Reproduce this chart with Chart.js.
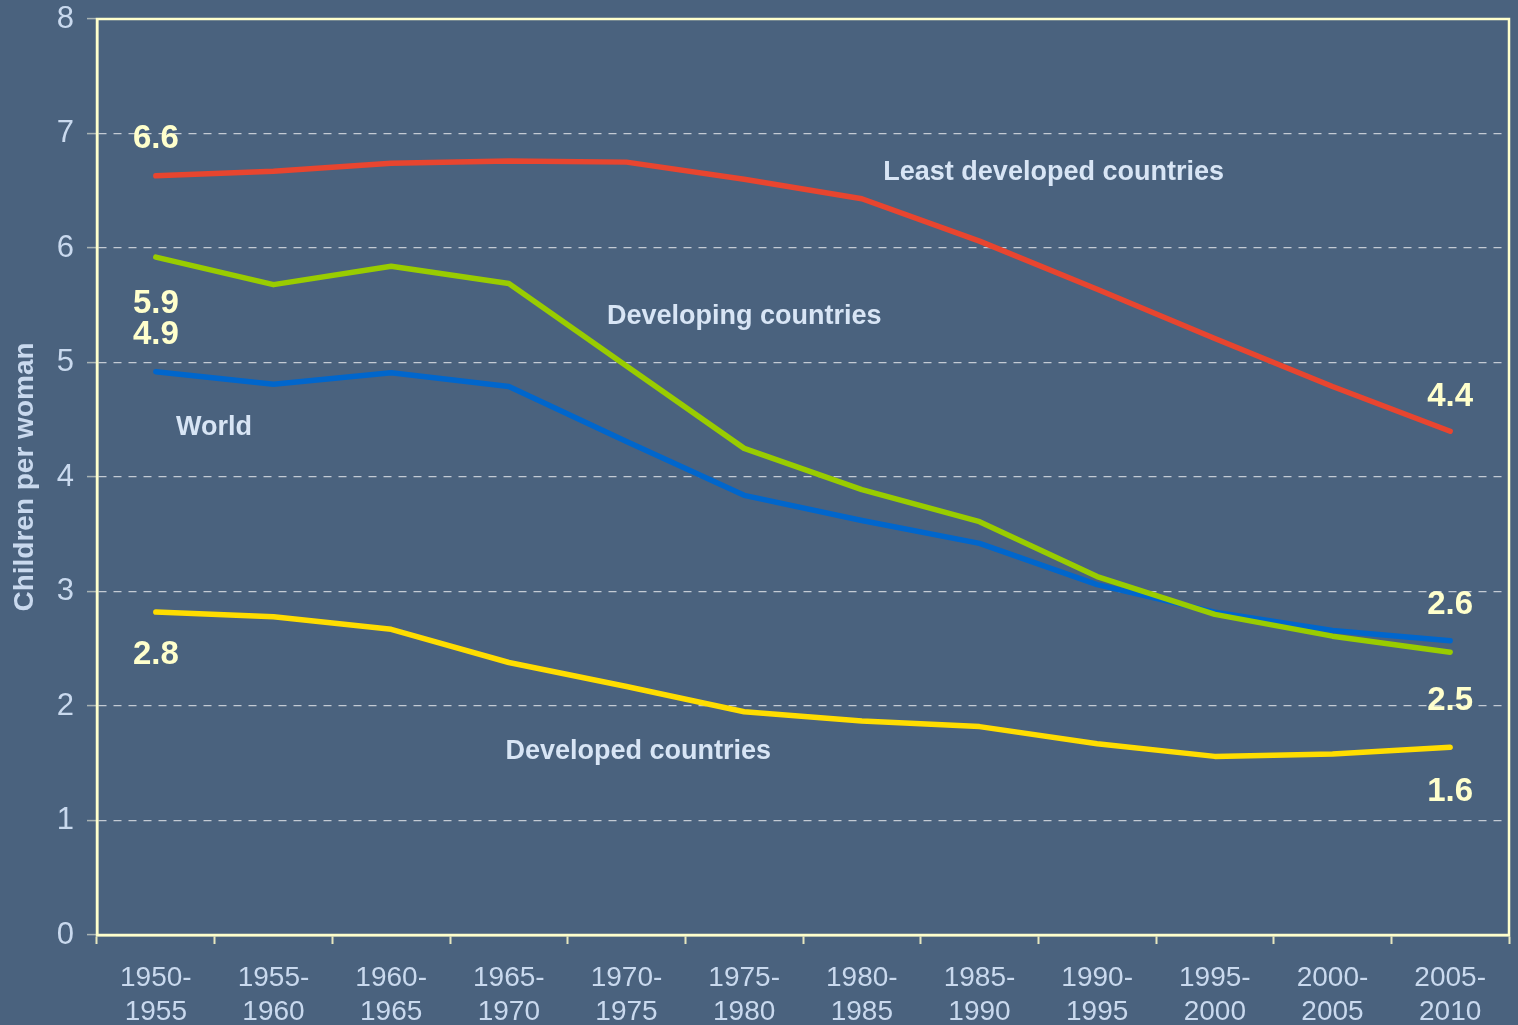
<!DOCTYPE html>
<html>
<head>
<meta charset="utf-8">
<script src="https://cdn.jsdelivr.net/npm/chart.js@4/dist/chart.umd.min.js"></script>
<style>
  html, body { margin: 0; padding: 0; background: #4A627E; }
  #wrap { width: 1518px; height: 1025px; }
</style>
</head>
<body>
<div id="wrap"><canvas id="c" width="1518" height="1025"></canvas></div>
<script>
// ---- data ----
const categories = [
  ['1950-', '1955'], ['1955-', '1960'], ['1960-', '1965'], ['1965-', '1970'],
  ['1970-', '1975'], ['1975-', '1980'], ['1980-', '1985'], ['1985-', '1990'],
  ['1990-', '1995'], ['1995-', '2000'], ['2000-', '2005'], ['2005-', '2010']
];
const leastDeveloped = [6.63, 6.67, 6.74, 6.76, 6.75, 6.60, 6.43, 6.06, 5.64, 5.21, 4.79, 4.40];
const developing     = [5.92, 5.68, 5.84, 5.69, 4.97, 4.25, 3.89, 3.61, 3.13, 2.80, 2.61, 2.47];
const world          = [4.92, 4.81, 4.91, 4.79, 4.31, 3.84, 3.62, 3.42, 3.06, 2.82, 2.66, 2.57];
const developed      = [2.82, 2.78, 2.67, 2.38, 2.17, 1.95, 1.87, 1.82, 1.67, 1.56, 1.58, 1.64];
const yTicks = [0, 1, 2, 3, 4, 5, 6, 7, 8];

// value labels: [text, categoryIndex, yValue]
const valueLabels = [
  ['6.6', 0, 6.98], ['5.9', 0, 5.54], ['4.9', 0, 5.27], ['2.8', 0, 2.47],
  ['4.4', 11, 4.73], ['2.6', 11, 2.91], ['2.5', 11, 2.07], ['1.6', 11, 1.28]
];
// series name labels: [text, categoryIndex, yValue]
const seriesLabels = [
  ['Least developed countries', 7.63, 6.68],
  ['Developing countries', 5.00, 5.42],
  ['World', 0.495, 4.45],
  ['Developed countries', 4.10, 1.62]
];

const BG = '#4A627E';
const CREAM = '#FFFFCC';
const TICKTXT = '#C9D9EE';
const FONT = '"Liberation Sans", Arial, sans-serif';

const bgPlugin = {
  id: 'bg',
  beforeDraw(chart) {
    const ctx = chart.ctx;
    ctx.save();
    ctx.fillStyle = BG;
    ctx.fillRect(0, 0, chart.width, chart.height);
    ctx.restore();
  },
  beforeDatasetsDraw(chart) {
    const {ctx, chartArea: a} = chart;
    ctx.save();
    ctx.setLineDash([]);
    ctx.strokeStyle = CREAM;
    ctx.lineWidth = 2.5;
    ctx.strokeRect(a.left, a.top, a.right - a.left, a.bottom - a.top);
    ctx.restore();
  },
  afterDatasetsDraw(chart) {
    const ctx = chart.ctx;
    const xs = chart.scales.x, ys = chart.scales.y;
    ctx.save();
    ctx.textAlign = 'center';
    ctx.textBaseline = 'middle';
    ctx.fillStyle = CREAM;
    ctx.font = 'bold 33px ' + FONT;
    valueLabels.forEach(([t, xi, yv]) => {
      ctx.fillText(t, xs.getPixelForValue(xi), ys.getPixelForValue(yv) + 3);
    });
    ctx.fillStyle = '#D8E5F5';
    ctx.font = 'bold 27px ' + FONT;
    seriesLabels.forEach(([t, xi, yv]) => {
      ctx.fillText(t, xs.getPixelForValue(xi), ys.getPixelForValue(yv) + 2);
    });
    ctx.restore();
  }
};

function ds(label, data, color) {
  return {
    label, data,
    borderColor: color, backgroundColor: color,
    borderWidth: 5.5, pointRadius: 0, tension: 0,
    borderCapStyle: 'round', borderJoinStyle: 'round', fill: false
  };
}

new Chart(document.getElementById('c'), {
  type: 'line',
  data: {
    labels: categories,
    datasets: [
      ds('Least developed countries', leastDeveloped, '#E8452F'),
      ds('Developing countries', developing, '#99CC00'),
      ds('World', world, '#0066CC'),
      ds('Developed countries', developed, '#FFDD00')
    ]
  },
  options: {
    responsive: false,
    devicePixelRatio: 1,
    animation: false,
    layout: { padding: { top: 19, right: 9, left: 0, bottom: 0 } },
    plugins: { legend: { display: false }, tooltip: { enabled: false } },
    scales: {
      x: {
        type: 'category',
        offset: true,
        grid: {
          display: true, offset: true, drawOnChartArea: false, drawTicks: true,
          tickLength: 9, tickColor: '#E6E6BE', tickWidth: 2
        },
        border: { display: true, color: CREAM, width: 2.5 },
        ticks: {
          color: TICKTXT, font: { family: FONT, size: 28, lineHeight: 1.22 }, padding: 17,
          maxRotation: 0, autoSkip: false
        },
        afterFit(s) { s.height = 90; s.paddingLeft = 0; s.paddingRight = 0; }
      },
      y: {
        min: 0, max: 8,
        afterBuildTicks(s) { s.ticks = yTicks.map(v => ({ value: v })); },
        grid: {
          display: true, color: '#C3CAD4', lineWidth: 1.2,
          drawTicks: true, tickLength: 10, tickColor: '#A9B4B4', tickWidth: 1.5
        },
        border: { display: true, color: CREAM, width: 2.5, dash: [8, 7] },
        ticks: { color: TICKTXT, font: { family: FONT, size: 31 }, padding: 13 },
        title: {
          display: true, text: 'Children per woman', color: TICKTXT,
          font: { family: FONT, size: 28, weight: 'bold' }, padding: { top: 8, bottom: 0 }
        },
        afterFit(s) { s.width = 97; s.paddingTop = 0; s.paddingBottom = 0; }
      }
    }
  },
  plugins: [bgPlugin]
});
</script>
</body>
</html>
